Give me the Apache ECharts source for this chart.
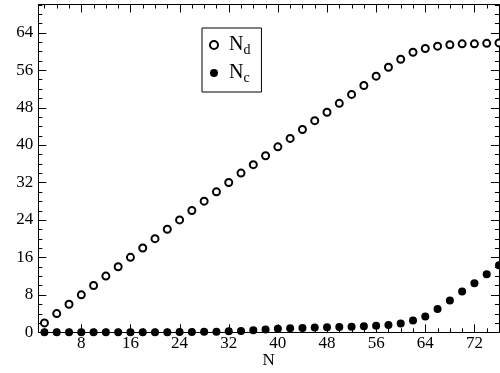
<!DOCTYPE html>
<html><head><meta charset="utf-8">
<script src="https://cdn.jsdelivr.net/npm/echarts@6/dist/echarts.min.js"></script>
<style>html,body{margin:0;padding:0;background:#fff}#c{width:500px;height:373px}</style>
</head><body><div id="c"></div>
<script>
var N = [2,4,6,8,10,12,14,16,18,20,22,24,26,28,30,32,34,36,38,40,42,44,46,48,50,52,54,56,58,60,62,64,66,68,70,72,74,76];
var Nd = [2,4,6,8,10,12,14,16,18,20,22,24,26,28,30,32,34,35.8,37.7,39.6,41.4,43.3,45.2,47.0,48.9,50.8,52.7,54.7,56.6,58.3,59.8,60.6,61.1,61.4,61.6,61.6,61.7,61.8];
var Nc = [0,0,0,0,0,0,0,0,0,0,0,0.05,0.05,0.1,0.1,0.2,0.3,0.45,0.6,0.75,0.85,0.92,1.0,1.07,1.14,1.2,1.28,1.42,1.56,1.9,2.5,3.4,5.0,6.8,8.7,10.5,12.4,14.3];
var xMajor = [8,16,24,32,40,48,56,64,72];
var xMinor = [2,4,6,10,12,14,18,20,22,26,28,30,34,36,38,42,44,46,50,52,54,58,60,62,66,68,70,74,76];
var yMajor = [0,8,16,24,32,40,48,56,64];
var yMinor = [2,4,6,10,12,14,18,20,22,26,28,30,34,36,38,42,44,46,50,52,54,58,60,62,66,68,70];
var xRange = [1, 76];
var yRange = [0, 70];

var font = 'Liberation Serif';
function pairs(xs, ys){ return xs.map(function(x,i){return [x, ys[i]];}); }
function seg(x1,y1,x2,y2){ return {type:'line', shape:{x1:x1,y1:y1,x2:x2,y2:y2}, style:{stroke:'#000', lineWidth:1}}; }
function xTicks(len){
  return function(params, api){
    var v = api.value(0);
    var b = api.coord([v, yRange[0]]), t = api.coord([v, yRange[1]]);
    var x = Math.round(b[0]) + 0.5;
    return {type:'group', children:[seg(x, b[1], x, b[1]-len), seg(x, t[1], x, t[1]+len)]};
  };
}
function yTicks(len){
  return function(params, api){
    var v = api.value(1);
    var l = api.coord([xRange[0], v]), r = api.coord([xRange[1], v]);
    var y = Math.round(l[1]) + 0.5;
    return {type:'group', children:[seg(l[0], y, l[0]+len, y), seg(r[0], y, r[0]-len, y)]};
  };
}
function tickSeries(kind, vals, len){
  return {type:'custom', xAxisIndex:0, yAxisIndex:0, clip:false, silent:true, z:1,
    renderItem: kind === 'x' ? xTicks(len) : yTicks(len),
    data: vals.map(function(v){ return kind === 'x' ? [v, yRange[0]] : [xRange[0], v]; })};
}
var chart = echarts.init(document.getElementById('c'));
chart.setOption({
  animation:false,
  backgroundColor:'#fff',
  grid:{left:38.3, right:1, top:4.5, bottom:40.7, outerBoundsMode:'none'},
  xAxis:[
    {type:'value', min:xRange[0], max:xRange[1], position:'bottom',
     axisLine:{show:true, onZero:false, lineStyle:{color:'#000'}},
     axisTick:{show:false},
     axisLabel:{show:true, customValues:xMajor, margin:3, color:'#000', fontFamily:font, fontSize:17},
     splitLine:{show:false},
     name:'N', nameLocation:'middle', nameGap:20, nameMoveOverlap:false,
     nameTextStyle:{color:'#000', fontFamily:font, fontSize:17}},
    {type:'value', min:xRange[0], max:xRange[1], position:'top',
     axisLine:{show:true, onZero:false, lineStyle:{color:'#000'}},
     axisTick:{show:false}, axisLabel:{show:false}, splitLine:{show:false}}
  ],
  yAxis:[
    {type:'value', min:yRange[0], max:yRange[1], position:'left',
     axisLine:{show:true, onZero:false, lineStyle:{color:'#000'}},
     axisTick:{show:false},
     axisLabel:{show:true, customValues:yMajor, margin:5, color:'#000', fontFamily:font, fontSize:17},
     splitLine:{show:false}},
    {type:'value', min:yRange[0], max:yRange[1], position:'right',
     axisLine:{show:true, onZero:false, lineStyle:{color:'#000'}},
     axisTick:{show:false}, axisLabel:{show:false}, splitLine:{show:false}}
  ],
  legend:{
    orient:'vertical', left:202, top:28,
    padding:[7,11,7,7], itemGap:6,
    borderColor:'#000', borderWidth:1, backgroundColor:'#fff',
    itemWidth:20, itemHeight:8,
    formatter:function(name){ return 'N{s|' + name.slice(1) + '}'; },
    textStyle:{color:'#000', fontFamily:font, fontSize:20,
      rich:{s:{fontFamily:font, fontSize:14, color:'#000', verticalAlign:'bottom', padding:[10,0,0,0]}}},
    data:[{name:'Nd'},{name:'Nc'}]
  },
  series:[
    tickSeries('x', xMajor, 8),
    tickSeries('x', xMinor, 4),
    tickSeries('y', yMajor, 8),
    tickSeries('y', yMinor, 4),
    {name:'Nd', type:'scatter', xAxisIndex:0, yAxisIndex:0, clip:false, z:3,
     symbol:'emptyCircle', symbolSize:7,
     itemStyle:{color:'#000', borderColor:'#000', borderWidth:1.3, opacity:1},
     data:pairs(N, Nd)},
    {name:'Nc', type:'scatter', xAxisIndex:0, yAxisIndex:0, clip:false, z:3,
     symbol:'circle', symbolSize:8,
     itemStyle:{color:'#000', opacity:1},
     data:pairs(N, Nc)}
  ]
});
</script></body></html>
